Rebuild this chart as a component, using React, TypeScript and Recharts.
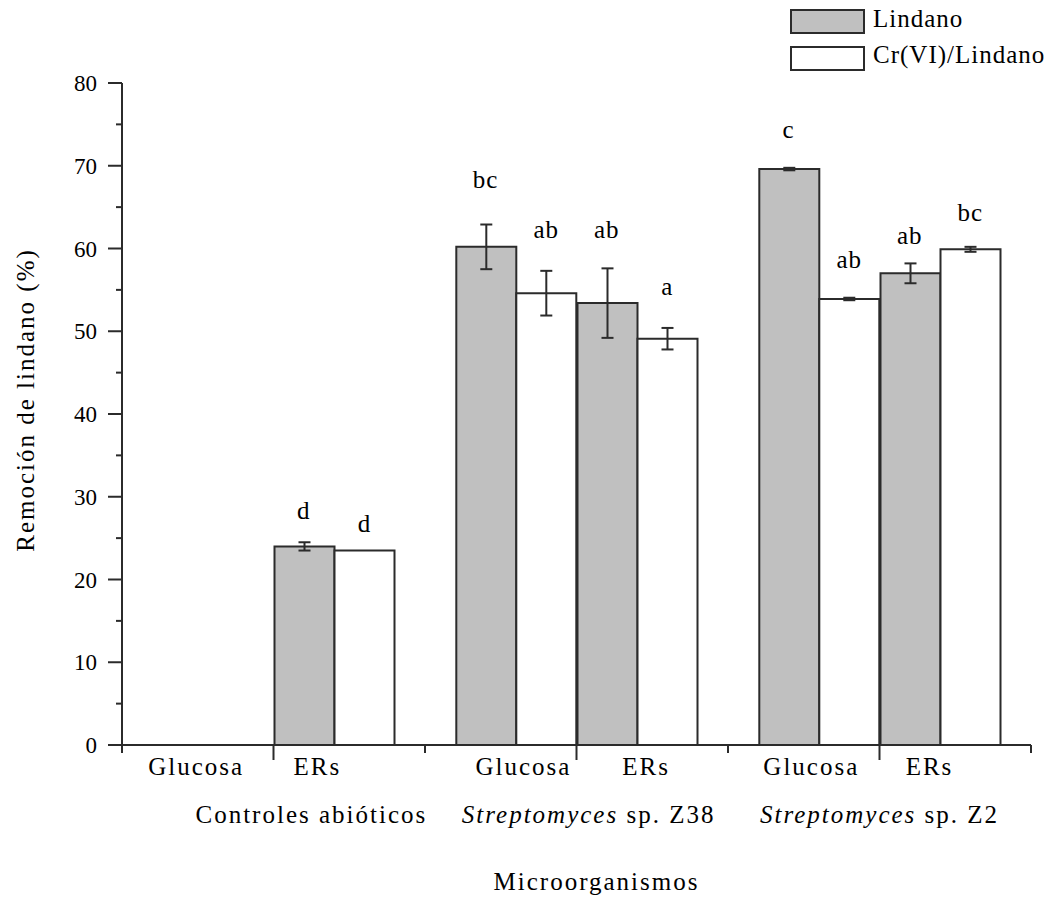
import React from 'react';
import { ComposedChart, Bar, ErrorBar, Scatter, XAxis, YAxis, Legend, Label } from 'recharts';

// Carbon source of each slot and the microorganism groups below them
const substrates = ['Glucosa', 'ERs', 'Glucosa', 'ERs', 'Glucosa', 'ERs'];
const groups = ['Controles abióticos', 'Streptomyces sp. Z38', 'Streptomyces sp. Z2'];

// Centre of each bar pair on the numeric x axis (0 – 6)
const slotX = [0.6, 1.4, 2.6, 3.4, 4.6, 5.4];

// Lindane removal (%) and standard deviations
const lindano = [null, 24.0, 60.2, 53.4, 69.6, 57.0];
const lindanoSd = [null, 0.5, 2.7, 4.2, 0.15, 1.2];
const crLindano = [null, 23.5, 54.6, 49.1, 53.9, 59.9];
const crLindanoSd = [null, 0, 2.7, 1.3, 0.15, 0.3];

// Significance letters and the height (%) at which each is written
const lindanoLetters = ['', 'd', 'bc', 'ab', 'c', 'ab'];
const lindanoLetterY = [null, 27.3, 67.3, 61.3, 73.4, 60.5];
const crLetters = ['', 'd', 'ab', 'a', 'ab', 'bc'];
const crLetterY = [null, 25.7, 61.3, 54.4, 57.6, 63.3];

const yTicks = [0, 5, 10, 15, 20, 25, 30, 35, 40, 45, 50, 55, 60, 65, 70, 75, 80];
const xTicks = [0, 1, 2, 3, 4, 5, 6];
const substrateLabelX = [0.49, 1.29, 2.65, 3.46, 4.55, 5.33];
const groupLabelX = [1.25, 3.08, 5.0];

const seriesNames = ['Lindano', 'Cr(VI)/Lindano'];
const seriesFills = ['#c0c0c0', '#ffffff'];

const FONT = '"Liberation Serif", "Times New Roman", serif';
const INK = '#2b2b2b';

const rows = slotX.map((x, i) => ({
  x,
  lindano: lindano[i],
  lindanoSd: lindanoSd[i],
  crLindano: crLindano[i],
  crLindanoSd: crLindanoSd[i],
}));

const letterRows = [
  ...slotX.map((x, i) => ({ x: x - 0.2, y: lindanoLetterY[i], letter: lindanoLetters[i] })),
  ...slotX.map((x, i) => ({ x: x + 0.2, y: crLetterY[i], letter: crLetters[i] })),
].filter((r) => r.letter !== '' && r.y !== null);

const YTick = (props: any) => {
  const { x, y, payload } = props;
  const major = payload.value % 10 === 0;
  return (
    <g>
      <line x1={x - (major ? 14 : 6)} x2={x} y1={y} y2={y} stroke={INK} strokeWidth={2} />
      {major && (
        <text x={x - 25} y={y} dy="0.35em" textAnchor="end" fontFamily={FONT} fontSize={23} fill="#000">
          {payload.value}
        </text>
      )}
    </g>
  );
};

const XTick = (props: any) => {
  const { x, y, payload } = props;
  const len = payload.value % 2 === 1 ? 15 : 8;
  return <line x1={x} x2={x} y1={y} y2={y + len} stroke={INK} strokeWidth={2} />;
};

const SubstrateTick = (props: any) => {
  const { x, y, index } = props;
  return (
    <text x={x} y={y + 29} textAnchor="middle" fontFamily={FONT} fontSize={25} letterSpacing={2} fill="#000">
      {substrates[index]}
    </text>
  );
};

const GroupTick = (props: any) => {
  const { x, y, index } = props;
  const name = groups[index];
  const genus = 'Streptomyces';
  const italic = name.startsWith(genus);
  return (
    <text x={x} y={y + 76} textAnchor="middle" fontFamily={FONT} fontSize={25} letterSpacing={2} fill="#000">
      {italic ? (
        <>
          <tspan fontStyle="italic">{genus}</tspan>
          <tspan>{name.slice(genus.length)}</tspan>
        </>
      ) : (
        name
      )}
    </text>
  );
};

const LetterShape = (props: any) => {
  const { cx, cy, payload } = props;
  return (
    <text x={cx} y={cy} textAnchor="middle" fontFamily={FONT} fontSize={25} letterSpacing={1} fill="#000">
      {payload.letter}
    </text>
  );
};

const renderLegend = () => (
  <svg width={272} height={80} style={{ overflow: 'visible', display: 'block' }}>
    {seriesNames.map((name, i) => (
      <g key={name}>
        <rect x={5} y={3 + i * 37} width={73} height={23} fill={seriesFills[i]} stroke={INK} strokeWidth={2} />
        <text x={87} y={20 + i * 36} fontFamily={FONT} fontSize={25} letterSpacing={1} fill="#000">
          {name}
        </text>
      </g>
    ))}
  </svg>
);

const YLabel = (props: any) => {
  const { viewBox } = props;
  const cx = viewBox.x + 34;
  const cy = viewBox.y + viewBox.height / 2 - 14;
  return (
    <text
      x={cx}
      y={cy}
      transform={`rotate(-90, ${cx}, ${cy})`}
      textAnchor="middle"
      fontFamily={FONT}
      fontSize={25}
      letterSpacing={2}
      fill="#000"
    >
      Remoción de lindano (%)
    </text>
  );
};

const XLabel = (props: any) => {
  const { viewBox } = props;
  return (
    <text
      x={viewBox.x + viewBox.width / 2 + 20}
      y={viewBox.y + 145}
      textAnchor="middle"
      fontFamily={FONT}
      fontSize={25}
      letterSpacing={2}
      fill="#000"
    >
      Microorganismos
    </text>
  );
};

export default function App() {
  return (
    <div style={{ position: 'absolute', left: 0, top: 0, width: 1060, height: 898, background: '#fff' }}>
      <ComposedChart
        width={1060}
        height={898}
        data={rows}
        margin={{ top: 83, right: 29, bottom: 150, left: 0 }}
        barGap={0}
      >
        <XAxis
          xAxisId="a_main"
          dataKey="x"
          type="number"
          domain={[0, 6]}
          ticks={xTicks}
          interval={0}
          height={1}
          tickSize={0}
          tickMargin={0}
          tickLine={false}
          tick={<XTick />}
          axisLine={{ stroke: INK, strokeWidth: 2 }}
        >
          <Label content={<XLabel />} />
        </XAxis>
        <XAxis
          xAxisId="b_sub"
          dataKey="x"
          type="number"
          domain={[0, 6]}
          ticks={substrateLabelX}
          interval={0}
          height={1}
          tickSize={0}
          tickMargin={0}
          tickLine={false}
          axisLine={false}
          tick={<SubstrateTick />}
        />
        <XAxis
          xAxisId="c_grp"
          dataKey="x"
          type="number"
          domain={[0, 6]}
          ticks={groupLabelX}
          interval={0}
          height={1}
          tickSize={0}
          tickMargin={0}
          tickLine={false}
          axisLine={false}
          tick={<GroupTick />}
        />
        <YAxis
          type="number"
          domain={[0, 80]}
          ticks={yTicks}
          interval={0}
          width={122}
          tickSize={0}
          tickMargin={0}
          tickLine={false}
          tick={<YTick />}
          axisLine={{ stroke: INK, strokeWidth: 2 }}
        >
          <Label content={<YLabel />} />
        </YAxis>
        <Legend
          layout="vertical"
          align="center"
          verticalAlign="middle"
          content={renderLegend}
          wrapperStyle={{ left: 786, top: 7, width: 272, height: 80 }}
        />
        <Bar
          xAxisId="a_main"
          dataKey="lindano"
          name={seriesNames[0]}
          fill={seriesFills[0]}
          stroke={INK}
          strokeWidth={2}
          barSize={60}
          isAnimationActive={false}
        >
          <ErrorBar dataKey="lindanoSd" width={6} stroke={INK} strokeWidth={2} isAnimationActive={false} />
        </Bar>
        <Bar
          xAxisId="a_main"
          dataKey="crLindano"
          name={seriesNames[1]}
          fill={seriesFills[1]}
          stroke={INK}
          strokeWidth={2}
          barSize={60}
          isAnimationActive={false}
        >
          <ErrorBar dataKey="crLindanoSd" width={6} stroke={INK} strokeWidth={2} isAnimationActive={false} />
        </Bar>
        <XAxis xAxisId="z_letters" dataKey="x" type="number" domain={[0, 6]} height={0} hide />
        <Scatter
          xAxisId="z_letters"
          data={letterRows}
          dataKey="y"
          legendType="none"
          shape={<LetterShape />}
          isAnimationActive={false}
        />
      </ComposedChart>
    </div>
  );
}
